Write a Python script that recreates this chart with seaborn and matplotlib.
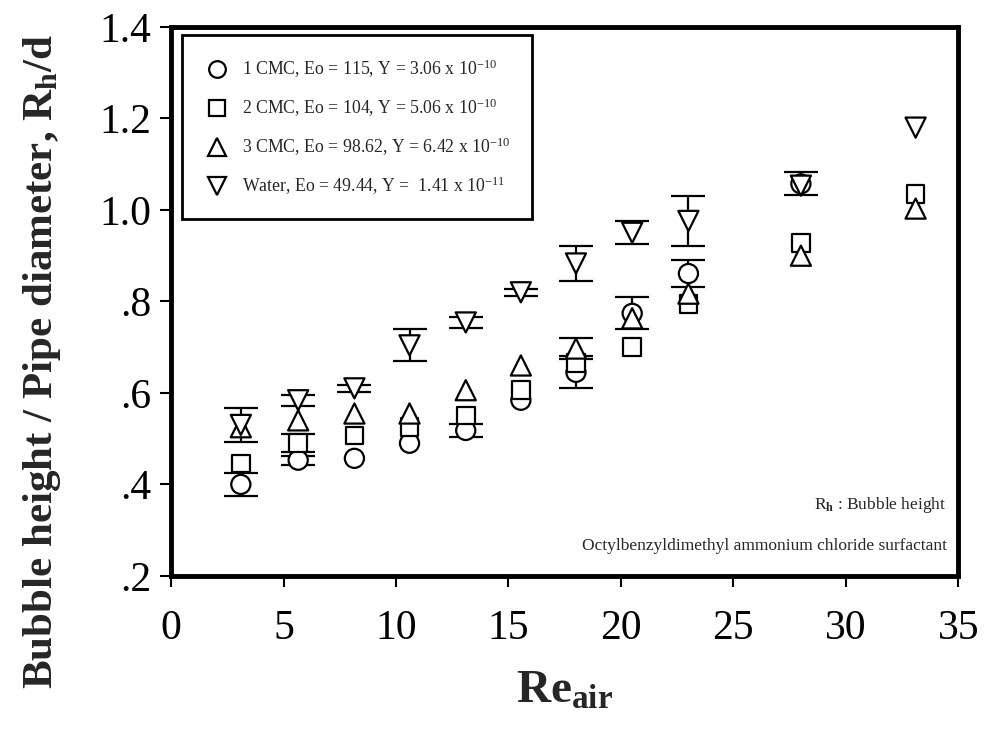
import numpy as np
import pandas as pd
import matplotlib
matplotlib.use("Agg")
import matplotlib.pyplot as plt
from matplotlib.lines import Line2D
import seaborn as sns

# Air Reynolds number at each measuring point
re_air = [3.1, 5.65, 8.15, 10.6, 13.1, 15.55, 18.0, 20.5, 23.0, 28.0, 33.1]

# Dimensionless bubble height R_h/d for each liquid
cmc1 = [0.400, 0.453, 0.457, 0.490, 0.518, 0.584, 0.645, 0.774, 0.861, 1.057, np.nan]
cmc2 = [0.446, 0.490, 0.507, 0.525, 0.551, 0.606, 0.665, 0.700, 0.795, 0.928, 1.035]
cmc3 = [0.525, 0.540, 0.555, 0.555, 0.606, 0.660, 0.697, 0.763, 0.817, 0.900, 1.003]
water = [0.530, 0.584, 0.610, 0.704, 0.754, 0.820, 0.883, 0.950, 0.976, 1.053, 1.180]

# Standard deviations (NaN where no bar was measured)
cmc1_err = [0.025, 0.010, np.nan, np.nan, 0.015, np.nan, 0.035, 0.035, 0.030, 0.025, np.nan]
cmc2_err = [np.nan, 0.020, np.nan, np.nan, np.nan, np.nan, np.nan, np.nan, np.nan, np.nan, np.nan]
cmc3_err = [np.nan, np.nan, np.nan, np.nan, np.nan, np.nan, 0.022, np.nan, np.nan, np.nan, np.nan]
water_err = [0.037, 0.012, 0.008, 0.035, 0.012, 0.008, 0.038, 0.025, 0.055, np.nan, np.nan]

series_labels = [
    "1 CMC, Eo = 115, Y = 3.06 x 10$^{-10}$",
    "2 CMC, Eo = 104, Y = 5.06 x 10$^{-10}$",
    "3 CMC, Eo = 98.62, Y = 6.42 x 10$^{-10}$",
    "Water, Eo = 49.44, Y =  1.41 x 10$^{-11}$",
]
series_markers = ["o", "s", "^", "v"]
series_sizes = [190, 160, 210, 210]

x_ticks = [0, 5, 10, 15, 20, 25, 30, 35]
y_ticks = [0.2, 0.4, 0.6, 0.8, 1.0, 1.2, 1.4]
y_ticklabels = [".2", ".4", ".6", ".8", "1.0", "1.2", "1.4"]

sns.set_theme(style="ticks")
plt.rcParams["font.family"] = ["Liberation Serif", "DejaVu Serif"]
plt.rcParams["mathtext.fontset"] = "custom"
plt.rcParams["mathtext.rm"] = "Liberation Serif"
plt.rcParams["mathtext.it"] = "Liberation Serif:italic"
plt.rcParams["mathtext.bf"] = "Liberation Serif:bold"
plt.rcParams["mathtext.default"] = "regular"

fig = plt.figure(figsize=(9.89, 7.29), dpi=100)
ax = fig.add_axes([0.173, 0.21, 0.796, 0.753])

values = [cmc1, cmc2, cmc3, water]
errors = [cmc1_err, cmc2_err, cmc3_err, water_err]

frames = []
for lab, v in zip(series_labels, values):
    frames.append(pd.DataFrame({"Re": re_air, "Rh": v, "series": lab}))
df = pd.concat(frames, ignore_index=True).dropna()

for v, e in zip(values, errors):
    ax.errorbar(re_air, v, yerr=e, fmt="none", ecolor="black",
                elinewidth=1.6, capsize=12, capthick=1.6, zorder=2)

sns.scatterplot(
    data=df, x="Re", y="Rh", style="series", style_order=series_labels,
    markers=dict(zip(series_labels, series_markers)),
    size="series", sizes=dict(zip(series_labels, series_sizes)),
    size_order=series_labels,
    facecolor="white", edgecolor="black", linewidth=1.6,
    legend=False, ax=ax, zorder=3,
)

handles = [
    Line2D([], [], linestyle="none", marker=m, markersize=ms,
           markerfacecolor="white", markeredgecolor="black", markeredgewidth=1.6)
    for m, ms in zip(series_markers, [12, 11, 12.5, 12.5])
]
leg = ax.legend(handles, series_labels, loc="upper left",
                bbox_to_anchor=(0.014, 0.985), borderaxespad=0,
                fontsize=12.8, frameon=True, fancybox=False,
                edgecolor="black", framealpha=1, handletextpad=0.7,
                labelspacing=0.95, borderpad=1.25, handlelength=1.4)
leg.get_frame().set_linewidth(2.0)

ax.set_xlim(0, 35)
ax.set_ylim(0.2, 1.4)
ax.set_xticks(x_ticks)
ax.set_xticklabels([str(t) for t in x_ticks])
ax.set_yticks(y_ticks)
ax.set_yticklabels(y_ticklabels)
ax.tick_params(axis="both", direction="out", length=8, width=1.5,
               labelsize=30, color="black", labelcolor="black", pad=6)
ax.tick_params(axis="x", pad=16)

for side in ["top", "right", "bottom", "left"]:
    ax.spines[side].set_visible(True)
    ax.spines[side].set_linewidth(3.5)
    ax.spines[side].set_color("black")

ax.set_xlabel(r"$\mathbf{Re_{air}}$", fontsize=34, labelpad=16)
ax.set_ylabel(r"Bubble height / Pipe diameter, $\mathbf{R_h}$/d",
              fontsize=31, fontweight="bold")
ax.yaxis.set_label_coords(-0.137, 0.39)

ax.text(0.985, 0.13, r"R$_{\mathbf{h}}$ : Bubble height", transform=ax.transAxes,
        ha="right", va="center", fontsize=12.5)
ax.text(0.985, 0.055, "Octylbenzyldimethyl ammonium chloride surfactant",
        transform=ax.transAxes, ha="right", va="center", fontsize=12.5)

ax.set_facecolor("white")
fig.patch.set_facecolor("white")
fig.savefig("out.png", dpi=100)
